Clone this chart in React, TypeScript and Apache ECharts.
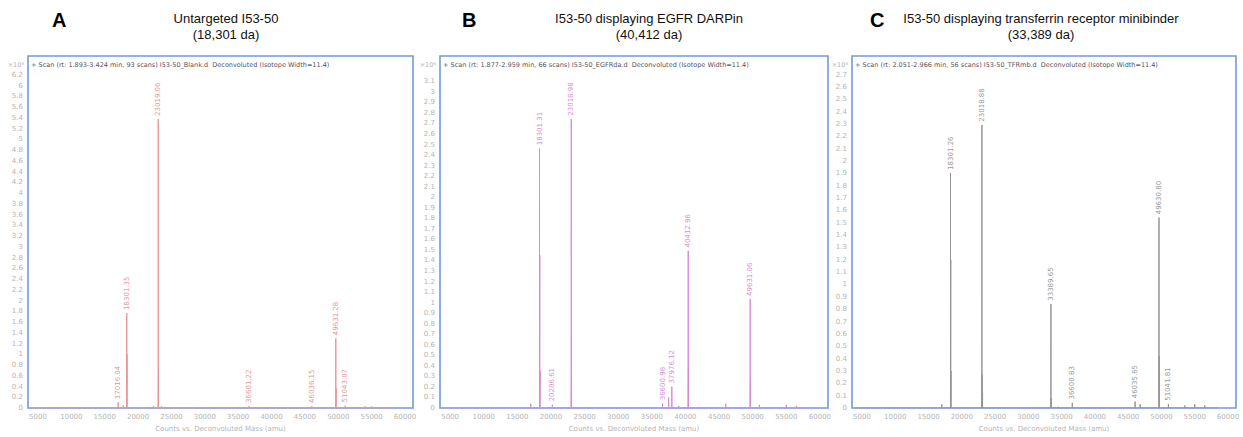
import React, { useEffect, useRef } from "react";
import * as echarts from "echarts";

// ---------- data (intensities in units of 10^6 counts) ----------
const massA = [17016.04, 18301.35, 23019.06, 36601.22, 46036.15, 49631.28, 51043.07];
const intA = [0.1, 1.76, 5.37, 0.03, 0.03, 1.29, 0.04];
const minorMassA = [17800, 18340, 22300, 23060, 23500, 35200, 45200, 47000, 49670, 53000, 54000, 55000, 56500];
const minorIntA = [0.05, 1.0, 0.04, 0.7, 0.03, 0.02, 0.02, 0.02, 0.37, 0.02, 0.03, 0.03, 0.02];

const massB = [18301.31, 20206.61, 23018.98, 36600.98, 37976.12, 40412.96, 49631.06];
const intB = [2.46, 0.03, 2.74, 0.04, 0.2, 1.49, 1.03];
const minorMassB = [17000, 18340, 18380, 23060, 37500, 39000, 40450, 46000, 49670, 51000, 55000, 56500];
const minorIntB = [0.04, 1.45, 0.35, 0.3, 0.1, 0.02, 0.4, 0.04, 0.25, 0.03, 0.03, 0.02];

const massC = [18301.26, 23018.88, 33389.65, 36600.83, 46035.65, 49630.8, 51041.81];
const intC = [1.9, 2.29, 0.84, 0.04, 0.05, 1.54, 0.03];
const minorMassC = [17000, 18340, 18380, 23060, 23120, 33430, 34500, 46800, 49670, 53500, 55000, 56500];
const minorIntC = [0.03, 1.2, 0.3, 0.27, 0.12, 0.08, 0.01, 0.03, 0.42, 0.02, 0.03, 0.02];

const xTicks = [5000, 10000, 15000, 20000, 25000, 30000, 35000, 40000, 45000, 50000, 55000, 60000];
const yTicksA = [0, 0.2, 0.4, 0.6, 0.8, 1, 1.2, 1.4, 1.6, 1.8, 2, 2.2, 2.4, 2.6, 2.8, 3, 3.2, 3.4, 3.6, 3.8, 4, 4.2, 4.4, 4.6, 4.8, 5, 5.2, 5.4, 5.6, 5.8, 6, 6.2];
const yTicksB = [0, 0.1, 0.2, 0.3, 0.4, 0.5, 0.6, 0.7, 0.8, 0.9, 1, 1.1, 1.2, 1.3, 1.4, 1.5, 1.6, 1.7, 1.8, 1.9, 2, 2.1, 2.2, 2.3, 2.4, 2.5, 2.6, 2.7, 2.8, 2.9, 3, 3.1];
const yTicksC = [0, 0.1, 0.2, 0.3, 0.4, 0.5, 0.6, 0.7, 0.8, 0.9, 1, 1.1, 1.2, 1.3, 1.4, 1.5, 1.6, 1.7, 1.8, 1.9, 2, 2.1, 2.2, 2.3, 2.4, 2.5, 2.6, 2.7];

const letters = ["A", "B", "C"];
const titles = ["Untargeted I53-50", "I53-50 displaying EGFR DARPin", "I53-50 displaying transferrin receptor minibinder"];
const subtitles = ["(18,301 da)", "(40,412 da)", "(33,389 da)"];
const scanTexts = [
  "+ Scan (rt: 1.893-3.424 min, 93 scans) I53-50_Blank.d  Deconvoluted (Isotope Width=11.4)",
  "+ Scan (rt: 1.877-2.959 min, 66 scans) I53-50_EGFRda.d  Deconvoluted (Isotope Width=11.4)",
  "+ Scan (rt: 2.051-2.966 min, 56 scans) I53-50_TFRmb.d  Deconvoluted (Isotope Width=11.4)",
];
const xAxisName = "Counts vs. Deconvoluted Mass (amu)";

// ---------- layout / style ----------
const grids = [
  { left: 28, top: 56, width: 385, height: 356 },
  { left: 440, top: 56, width: 388, height: 356 },
  { left: 852, top: 56, width: 384, height: 356 },
];
const yMax = [6.55, 3.34, 2.85];
const lineColors = ["#e99595", "#d68bd6", "#959595"];
const labelColors = ["#d97a7a", "#c670c6", "#7a7a7a"];
const titleCenters = [226, 649, 1041];
const letterX = [60, 470, 878];

function buildSpectrum(mass: number[], ints: number[], mMass: number[], mInts: number[]) {
  const peaks: [number, number][] = [];
  mass.forEach((m, i) => peaks.push([m, ints[i]]));
  mMass.forEach((m, i) => peaks.push([m, mInts[i]]));
  peaks.sort((a, b) => a[0] - b[0]);
  const pts: [number, number][] = [[4000, 0]];
  peaks.forEach(([m, h]) => {
    pts.push([m - 4, 0], [m, h], [m + 4, 0]);
  });
  pts.push([58500, 0]);
  return pts;
}

export default function App() {
  const ref = useRef<HTMLDivElement>(null);
  useEffect(() => {
    if (!ref.current) return;
    const chart = echarts.init(ref.current, null, { renderer: "svg" });
    const sets = [
      [massA, intA, minorMassA, minorIntA, yTicksA],
      [massB, intB, minorMassB, minorIntB, yTicksB],
      [massC, intC, minorMassC, minorIntC, yTicksC],
    ] as any[];

    const tickFont = { color: "#b4b4b4", fontSize: 7, fontFamily: "DejaVu Sans" };

    const option: any = {
      animation: false,
      backgroundColor: "#ffffff",
      grid: grids.map((g) => ({
        ...g,
        show: true,
        borderColor: "#7399dc",
        borderWidth: 1.6,
        backgroundColor: "#ffffff",
      })),
      xAxis: grids.map((_, i) => ({
        type: "value",
        gridIndex: i,
        min: 3500,
        max: 61200,
        axisLine: { show: false },
        axisTick: { show: false },
        splitLine: { show: false },
        axisLabel: {
          ...tickFont,
          customValues: xTicks,
          margin: 5,
          formatter: (v: number) => String(v),
        },
        name: xAxisName,
        nameLocation: "middle",
        nameGap: 17,
        nameTextStyle: { ...tickFont },
      })),
      yAxis: grids.map((_, i) => ({
        type: "value",
        gridIndex: i,
        min: 0,
        max: yMax[i],
        axisLine: { show: false },
        axisTick: { show: false },
        splitLine: { show: false },
        axisLabel: {
          ...tickFont,
          customValues: sets[i][4],
          margin: 5,
          formatter: (v: number) => String(Math.round(v * 10) / 10),
        },
      })),
      series: [] as any[],
      graphic: [] as any[],
    };

    sets.forEach((s, i) => {
      const [mass, ints, mMass, mInts] = s;
      option.series.push({
        type: "line",
        xAxisIndex: i,
        yAxisIndex: i,
        data: buildSpectrum(mass, ints, mMass, mInts),
        showSymbol: false,
        lineStyle: { color: lineColors[i], width: 1 },
        itemStyle: { color: lineColors[i] },
        silent: true,
        z: 3,
      });
      option.series.push({
        type: "scatter",
        xAxisIndex: i,
        yAxisIndex: i,
        symbolSize: 1,
        itemStyle: { color: lineColors[i] },
        data: (mass as number[]).map((m, k) => ({
          value: [m, ints[k]],
          label: {
            show: true,
            formatter: m.toFixed(2),
            position: "top",
            distance: 3,
            rotate: 90,
            align: "left",
            verticalAlign: "middle",
            color: labelColors[i],
            fontSize: 7,
            fontFamily: "DejaVu Sans",
          },
        })),
        z: 4,
      });

      const g = grids[i];
      option.graphic.push(
        {
          type: "text",
          left: letterX[i] - 8,
          top: 10,
          style: { text: letters[i], font: "bold 20px 'Liberation Sans', Arial, sans-serif", fill: "#000" },
        },
        {
          type: "text",
          x: titleCenters[i],
          y: 18,
          style: {
            text: titles[i],
            font: "13px 'Liberation Sans', Arial, sans-serif",
            fill: "#111",
            align: "center",
            verticalAlign: "middle",
          },
        },
        {
          type: "text",
          x: titleCenters[i],
          y: 34,
          style: {
            text: subtitles[i],
            font: "13px 'Liberation Sans', Arial, sans-serif",
            fill: "#111",
            align: "center",
            verticalAlign: "middle",
          },
        },
        {
          type: "text",
          x: g.left + 3,
          y: 65,
          z: 10,
          style: {
            text: scanTexts[i],
            font: "6.5px 'DejaVu Sans', sans-serif",
            fill: "#555",
            align: "left",
            verticalAlign: "middle",
          },
        },
        {
          type: "text",
          x: g.left - 4,
          y: 65,
          style: {
            text: "×10⁶",
            font: "6.5px 'DejaVu Sans', sans-serif",
            fill: "#b4b4b4",
            align: "right",
            verticalAlign: "middle",
          },
        }
      );
    });

    chart.setOption(option);
    return () => chart.dispose();
  }, []);

  return (
    <div
      ref={ref}
      style={{ position: "fixed", left: 0, top: 0, width: 1243, height: 437, background: "#fff" }}
    />
  );
}
